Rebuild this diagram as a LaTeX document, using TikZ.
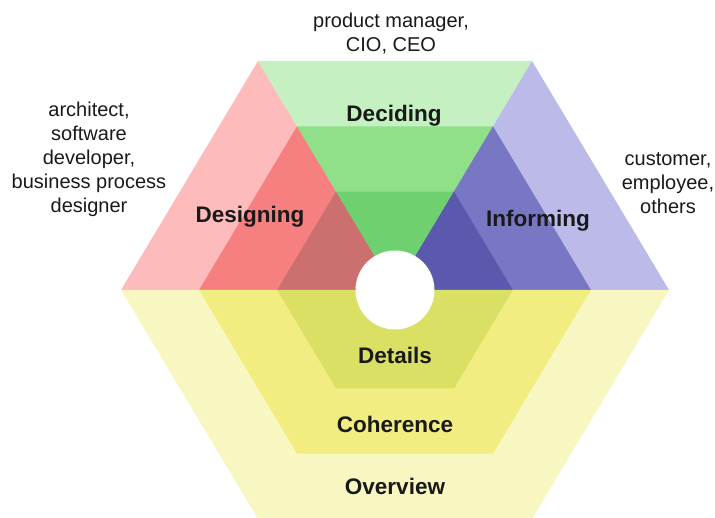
\documentclass[tikz,border=0pt]{standalone}
\usepackage{fontspec}
\setmainfont{Liberation Sans}

\definecolor{designA}{HTML}{FDBBBB}
\definecolor{designB}{HTML}{F67F7F}
\definecolor{designC}{HTML}{CB706F}
\definecolor{decideA}{HTML}{C5F0C2}
\definecolor{decideB}{HTML}{90E08A}
\definecolor{decideC}{HTML}{6ED06F}
\definecolor{informA}{HTML}{BBBAE8}
\definecolor{informB}{HTML}{7777C4}
\definecolor{informC}{HTML}{5A59AE}
\definecolor{levelA}{HTML}{F8F7C1}
\definecolor{levelB}{HTML}{F1ED80}
\definecolor{levelC}{HTML}{DAE063}

\tikzset{
	area/.style={font=\fontsize{22.5}{27}\selectfont\bfseries, text=black!90, anchor=base},
	role/.style={font=\fontsize{20}{24}\selectfont, text=black!90, align=center, anchor=base}
}

\begin{document}
\begin{tikzpicture}[x=1pt, y=-1pt]
		\useasboundingbox (0,0) rectangle (715,518);
		% three nested hexagons, largest first
		\foreach \s/\lvl in {1/A, 0.715/B, 0.43/C}{
			\begin{scope}[shift={(395,290)}, scale=\s]
				\fill[design\lvl] (-274,0) -- (-137,-229) -- (0,0) -- cycle;
				\fill[decide\lvl] (-137,-229) -- (137,-229) -- (0,0) -- cycle;
				\fill[inform\lvl] (137,-229) -- (274,0) -- (0,0) -- cycle;
				\fill[level\lvl] (-274,0) -- (274,0) -- (137,229) -- (-137,229) -- cycle;
			\end{scope}
		}
		\fill[white] (395,290) circle (39.5);
		\node[area] (deciding) at (394,122) {Deciding};
		\node[area] (designing) at (250,223) {Designing};
		\node[area] (informing) at (538,227) {Informing};
		\node[area] (details) at (395,364) {Details};
		\node[area] (coherence) at (395,433) {Coherence};
		\node[area] (overview) at (395,494) {Overview};
		% role texts, placed by the baseline of their last line
		\node[role] (managers) at (391,52) {product manager,\\CIO, CEO};
		\node[role] (designers) at (89,213) {architect,\\software\\developer,\\business process\\designer};
		\node[role] (users) at (668,214) {customer,\\employee,\\others};
\end{tikzpicture}
\end{document}
